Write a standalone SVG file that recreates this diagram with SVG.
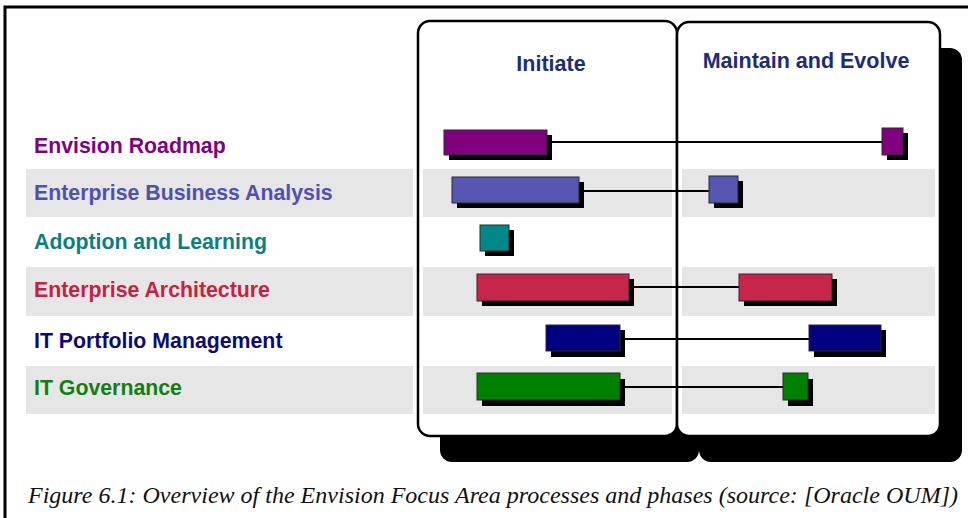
<svg xmlns="http://www.w3.org/2000/svg" width="968" height="518" viewBox="0 0 968 518">
  <style>
    .label { font-family: "Liberation Sans", Arial, sans-serif; font-weight: bold; font-size: 21.3px; }
    .phase { font-family: "Liberation Sans", Arial, sans-serif; font-weight: bold; font-size: 21.5px; fill: #1c2b7e; text-anchor: middle; }
    .band { fill: #e6e6e6; }
    .panel { fill: #ffffff; stroke: #000000; stroke-width: 2.5; }
    .pshadow { fill: #000000; }
    .bar { stroke: #2a2a2a; stroke-width: 1; }
    .bshadow { fill: #000000; }
    .link { stroke: #000000; stroke-width: 2; fill: none; }
    .caption { font-family: "Liberation Serif", "Times New Roman", serif; font-style: italic; font-size: 24px; fill: #111111; }
  </style>

  <rect x="0" y="0" width="968" height="518" fill="#ffffff"/>
  <!-- page frame (top and left edges) -->
  <path d="M5 518 V7 H968" fill="none" stroke="#000000" stroke-width="3"/>

  <!-- phase panel shadows -->
  <g id="panel-shadows">
    <rect class="pshadow" x="440" y="46" width="259" height="416" rx="12"/>
    <rect class="pshadow" x="699" y="48" width="263" height="414" rx="12"/>
  </g>

  <!-- phase panels -->
  <g id="phase-initiate">
    <rect class="panel" x="418" y="21" width="259" height="415" rx="12"/>
  </g>
  <g id="phase-maintain">
    <rect class="panel" x="677" y="22" width="263" height="414" rx="12"/>
  </g>

  <!-- alternating row bands -->
  <g id="bands">
    <rect class="band" x="26" y="169" width="387" height="48"/>
    <rect class="band" x="423" y="169" width="249" height="48"/>
    <rect class="band" x="682" y="169" width="253" height="48"/>
    <rect class="band" x="26" y="267" width="387" height="49"/>
    <rect class="band" x="423" y="267" width="249" height="49"/>
    <rect class="band" x="682" y="267" width="253" height="49"/>
    <rect class="band" x="26" y="366" width="387" height="48"/>
    <rect class="band" x="423" y="366" width="249" height="48"/>
    <rect class="band" x="682" y="366" width="253" height="48"/>
  </g>

  <text class="phase" x="551" y="71">Initiate</text>
  <text class="phase" x="806" y="68">Maintain and Evolve</text>

  <!-- connectors between phase bars -->
  <g id="connectors">
    <line class="link" x1="547" y1="142" x2="883" y2="142"/>
    <line class="link" x1="579" y1="191" x2="709" y2="191"/>
    <line class="link" x1="629" y1="287" x2="739" y2="287"/>
    <line class="link" x1="620" y1="339" x2="809" y2="339"/>
    <line class="link" x1="620" y1="387" x2="783" y2="387"/>
  </g>

  <!-- process rows -->
  <g id="envision-roadmap">
    <text class="label" x="34" y="153" fill="#800080">Envision Roadmap</text>
    <rect class="bshadow" x="449" y="135" width="103" height="25"/>
    <rect class="bar" x="444" y="130" width="103" height="25" fill="#800080"/>
    <rect class="bshadow" x="887" y="133" width="21" height="27"/>
    <rect class="bar" x="882" y="128" width="21" height="27" fill="#800080"/>
  </g>

  <g id="enterprise-business-analysis">
    <text class="label" x="34" y="200" fill="#5050b0">Enterprise Business Analysis</text>
    <rect class="bshadow" x="457" y="182" width="127" height="26"/>
    <rect class="bar" x="452" y="177" width="127" height="26" fill="#5656b0"/>
    <rect class="bshadow" x="714" y="181" width="29" height="27"/>
    <rect class="bar" x="709" y="176" width="29" height="27" fill="#5656b0"/>
  </g>

  <g id="adoption-and-learning">
    <text class="label" x="34" y="249" fill="#0a8080">Adoption and Learning</text>
    <rect class="bshadow" x="485" y="230" width="29" height="26"/>
    <rect class="bar" x="480" y="225" width="29" height="26" fill="#008888"/>
  </g>

  <g id="enterprise-architecture">
    <text class="label" x="34" y="297" fill="#c8213f">Enterprise Architecture</text>
    <rect class="bshadow" x="482" y="279" width="152" height="27"/>
    <rect class="bar" x="477" y="274" width="152" height="27" fill="#c8254a"/>
    <rect class="bshadow" x="744" y="279" width="93" height="27"/>
    <rect class="bar" x="739" y="274" width="93" height="27" fill="#c8254a"/>
  </g>

  <g id="it-portfolio-management">
    <text class="label" x="34" y="348" fill="#0a0a78">IT Portfolio Management</text>
    <rect class="bshadow" x="551" y="330" width="74" height="27"/>
    <rect class="bar" x="546" y="325" width="74" height="26" fill="#000080"/>
    <rect class="bshadow" x="814" y="330" width="72" height="27"/>
    <rect class="bar" x="809" y="325" width="72" height="26" fill="#000080"/>
  </g>

  <g id="it-governance">
    <text class="label" x="34" y="395" fill="#108010">IT Governance</text>
    <rect class="bshadow" x="482" y="379" width="143" height="27"/>
    <rect class="bar" x="477" y="373" width="143" height="27" fill="#008000"/>
    <rect class="bshadow" x="788" y="379" width="25" height="27"/>
    <rect class="bar" x="783" y="373" width="25" height="27" fill="#008000"/>
  </g>

  <text class="caption" x="28" y="503" textLength="930" lengthAdjust="spacingAndGlyphs">Figure 6.1: Overview of the Envision Focus Area processes and phases (source: [Oracle OUM])</text>
</svg>
